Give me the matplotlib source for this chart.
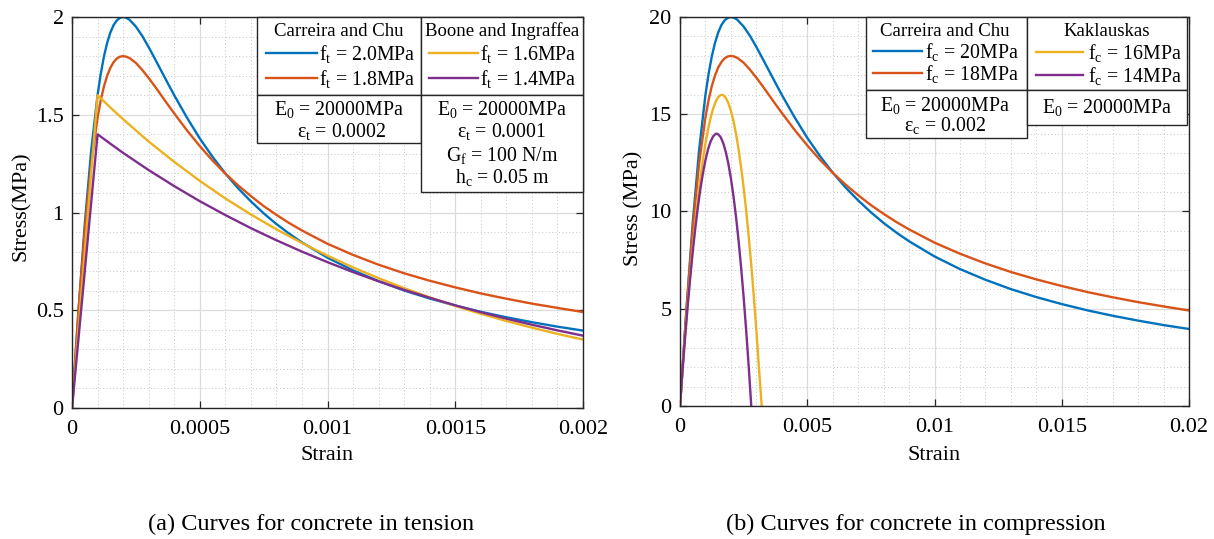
import matplotlib
matplotlib.use("Agg")
import matplotlib.pyplot as plt
from matplotlib.ticker import MultipleLocator, FuncFormatter
from matplotlib.patches import Rectangle
from matplotlib.lines import Line2D

plt.rcParams['font.family'] = ['Liberation Serif', 'DejaVu Serif']
plt.rcParams['mathtext.fontset'] = 'custom'
plt.rcParams['mathtext.rm'] = 'Liberation Serif'
plt.rcParams['mathtext.it'] = 'Liberation Serif:italic'

# ---------------- data: tension ----------------
t_strain_cc = [0, 0.000025, 0.00005, 0.000075, 0.0001, 0.0001125, 0.000125, 0.0001375,
               0.00015, 0.0001625, 0.000175, 0.0001875, 0.0002, 0.0002125, 0.000225,
               0.00025, 0.000275, 0.0003, 0.000325, 0.00035, 0.000375, 0.0004,
               0.00045, 0.0005, 0.00055, 0.0006, 0.00065, 0.0007, 0.00075, 0.0008,
               0.00085, 0.0009, 0.0010, 0.0011, 0.0012, 0.0013, 0.0014, 0.0015,
               0.0016, 0.0017, 0.0018, 0.0019, 0.0020]
t_cc_20 = [0, 0.492, 0.941, 1.315, 1.600, 1.709, 1.798, 1.867, 1.920, 1.958, 1.982,
           1.996, 2.000, 1.996, 1.986, 1.951, 1.903, 1.846, 1.785, 1.723, 1.661, 1.600,
           1.485, 1.379, 1.285, 1.200, 1.124, 1.057, 0.996, 0.941, 0.892, 0.847, 0.769,
           0.704, 0.649, 0.601, 0.560, 0.524, 0.492, 0.464, 0.439, 0.416, 0.396]
t_cc_18 = [0, 0.487, 0.911, 1.245, 1.485, 1.574, 1.645, 1.699, 1.740, 1.768, 1.787,
           1.797, 1.800, 1.797, 1.790, 1.765, 1.729, 1.688, 1.644, 1.598, 1.552, 1.507,
           1.420, 1.340, 1.266, 1.199, 1.139, 1.084, 1.033, 0.988, 0.946, 0.908, 0.840,
           0.783, 0.733, 0.689, 0.651, 0.617, 0.586, 0.559, 0.534, 0.512, 0.491]

t_strain_bi = [0, 0.0001, 0.00015, 0.0002, 0.0003, 0.0004, 0.0005, 0.0006, 0.0007,
               0.0008, 0.0009, 0.0010, 0.0011, 0.0012, 0.0013, 0.0014, 0.0015,
               0.0016, 0.0017, 0.0018, 0.0019, 0.0020]
t_bi_16 = [0, 1.600, 1.537, 1.477, 1.363, 1.259, 1.162, 1.072, 0.990, 0.914, 0.844,
           0.779, 0.719, 0.664, 0.613, 0.566, 0.522, 0.482, 0.445, 0.411, 0.379, 0.350]
t_bi_14 = [0, 1.400, 1.352, 1.305, 1.217, 1.135, 1.058, 0.987, 0.920, 0.858, 0.800,
           0.746, 0.695, 0.648, 0.604, 0.564, 0.525, 0.490, 0.457, 0.426, 0.397, 0.370]

# ---------------- data: compression ----------------
c_strain_cc = [0, 0.00025, 0.0005, 0.00075, 0.001, 0.001125, 0.00125, 0.001375,
               0.0015, 0.001625, 0.00175, 0.001875, 0.002, 0.002125, 0.00225,
               0.0025, 0.00275, 0.003, 0.00325, 0.0035, 0.00375, 0.004,
               0.0045, 0.005, 0.0055, 0.006, 0.0065, 0.007, 0.0075, 0.008,
               0.0085, 0.009, 0.010, 0.011, 0.012, 0.013, 0.014, 0.015,
               0.016, 0.017, 0.018, 0.019, 0.020]
c_cc_20 = [0, 4.92, 9.41, 13.15, 16.00, 17.09, 17.98, 18.67, 19.20, 19.58, 19.82,
           19.96, 20.00, 19.96, 19.86, 19.51, 19.03, 18.46, 17.85, 17.23, 16.61, 16.00,
           14.85, 13.79, 12.85, 12.00, 11.24, 10.57, 9.96, 9.41, 8.92, 8.47, 7.69,
           7.04, 6.49, 6.01, 5.60, 5.24, 4.92, 4.64, 4.39, 4.16, 3.96]
c_cc_18 = [0, 4.87, 9.11, 12.45, 14.85, 15.74, 16.45, 16.99, 17.40, 17.68, 17.87,
           17.97, 18.00, 17.97, 17.90, 17.65, 17.29, 16.88, 16.44, 15.98, 15.52, 15.07,
           14.20, 13.40, 12.66, 11.99, 11.39, 10.84, 10.33, 9.88, 9.46, 9.08, 8.40,
           7.83, 7.33, 6.89, 6.51, 6.17, 5.86, 5.59, 5.34, 5.12, 4.91]

c_strain_k16 = [0, 0.0001, 0.0002, 0.0003, 0.0004, 0.0005, 0.0006, 0.0007, 0.0008,
                0.0009, 0.0010, 0.0011, 0.0012, 0.0013, 0.0014, 0.0015, 0.0016,
                0.00164, 0.0017, 0.0018, 0.0019, 0.0020, 0.0021, 0.0022, 0.0023,
                0.0024, 0.0025, 0.0026, 0.0027, 0.0028, 0.0029, 0.0030, 0.0031,
                0.00321]
c_k16 = [0, 1.85, 3.59, 5.22, 6.74, 8.15, 9.45, 10.63, 11.70, 12.65, 13.49, 14.21,
         14.81, 15.28, 15.64, 15.88, 15.99, 16.00, 15.98, 15.84, 15.57, 15.18, 14.66,
         14.00, 13.21, 12.29, 11.24, 10.05, 8.72, 7.25, 5.64, 3.89, 2.00, 0.0]
c_strain_k14 = [0, 0.0001, 0.0002, 0.0003, 0.0004, 0.0005, 0.0006, 0.0007, 0.0008,
                0.0009, 0.0010, 0.0011, 0.0012, 0.0013, 0.0014, 0.00144, 0.0015,
                0.0016, 0.0017, 0.0018, 0.0019, 0.0020, 0.0021, 0.0022, 0.0023,
                0.0024, 0.0025, 0.0026, 0.0027, 0.0028]
c_k14 = [0, 1.83, 3.54, 5.12, 6.58, 7.92, 9.12, 10.20, 11.15, 11.96, 12.64, 13.19,
         13.59, 13.86, 13.99, 14.00, 13.97, 13.82, 13.51, 13.06, 12.46, 11.70, 10.80,
         9.74, 8.52, 7.14, 5.60, 3.89, 2.02, 0.0]

colors = ['#0072BD', '#D95319', '#EDB120', '#7E2F8E']
LW = 1.7

W, H = 1214, 539
fig = plt.figure(figsize=(W / 100, H / 100), dpi=100)
ax1 = fig.add_axes([72 / W, (H - 408) / H, 511 / W, 391 / H])
ax2 = fig.add_axes([680 / W, (H - 406) / H, 509 / W, 389 / H])


def P(px, py):
    return px / W, 1 - py / H


fmt = FuncFormatter(lambda v, p: '%g' % round(v, 10))
TICK = 16
LAB = 16


def style(ax, xmaj, xmin, ymaj, ymin, xlim, ylim):
    ax.set_xlim(*xlim)
    ax.set_ylim(*ylim)
    ax.xaxis.set_major_locator(MultipleLocator(xmaj))
    ax.xaxis.set_minor_locator(MultipleLocator(xmin))
    ax.yaxis.set_major_locator(MultipleLocator(ymaj))
    ax.yaxis.set_minor_locator(MultipleLocator(ymin))
    ax.xaxis.set_major_formatter(fmt)
    ax.yaxis.set_major_formatter(fmt)
    ax.grid(which='major', color='#dcdcdc', lw=0.9, ls='-')
    ax.grid(which='minor', color='#c4c4c4', lw=0.7, ls=(0, (1, 2.5)))
    ax.set_axisbelow(True)
    ax.tick_params(which='major', direction='in', length=5, width=0.9,
                   top=True, right=True, labelsize=TICK, color='#262626', pad=6)
    ax.tick_params(axis='x', which='major', pad=9)
    ax.tick_params(which='minor', length=0, top=True, right=True)
    for s in ax.spines.values():
        s.set_color('#262626')
        s.set_linewidth(1.0)


style(ax1, 0.0005, 0.0001, 0.5, 0.1, (0, 0.002), (0, 2))
style(ax2, 0.005, 0.001, 5, 1, (0, 0.02), (0, 20))

l1, = ax1.plot(t_strain_cc, t_cc_20, color=colors[0], lw=LW)
l2, = ax1.plot(t_strain_cc, t_cc_18, color=colors[1], lw=LW)
l3, = ax1.plot(t_strain_bi, t_bi_16, color=colors[2], lw=LW)
l4, = ax1.plot(t_strain_bi, t_bi_14, color=colors[3], lw=LW)

m1, = ax2.plot(c_strain_cc, c_cc_20, color=colors[0], lw=LW)
m2, = ax2.plot(c_strain_cc, c_cc_18, color=colors[1], lw=LW)
m3, = ax2.plot(c_strain_k16, c_k16, color=colors[2], lw=LW)
m4, = ax2.plot(c_strain_k14, c_k14, color=colors[3], lw=LW)

ax1.set_xlabel('Strain', fontsize=LAB)
ax1.set_ylabel('Stress(MPa)', fontsize=LAB)
ax2.set_xlabel('Strain', fontsize=LAB)
ax2.set_ylabel('Stress (MPa)', fontsize=LAB)
ax1.xaxis.set_label_coords(0.5, (408 - 456) / 391)
ax1.xaxis.label.set_va('center')
ax2.xaxis.set_label_coords(0.5, (406 - 456) / 389)
ax2.xaxis.label.set_va('center')
ax1.yaxis.set_label_coords((21 - 72) / 511, (408 - 206) / 391)
ax1.yaxis.label.set_va('center')
ax2.yaxis.set_label_coords((634 - 680) / 509, (406 - 208) / 389)
ax2.yaxis.label.set_va('center')

LT = 13.5
LS = 14.3
TF = fig.transFigure


def box(ax, x0, y0, x1, y1):
    (fx0, fy1), (fx1, fy0) = P(x0, y0), P(x1, y1)
    ax.add_patch(Rectangle((fx0, fy0), fx1 - fx0, fy1 - fy0, transform=TF,
                           facecolor='white', edgecolor='#262626', lw=1.0,
                           clip_on=False, zorder=5))


def txt(ax, px, py, s, ha='center', size=LS):
    x, y = P(px, py)
    ax.text(x, y, s, transform=TF, ha=ha, va='center', fontsize=size, zorder=6)


def sample(ax, line, x0, x1, py):
    a, y = P(x0, py)
    b, _ = P(x1, py)
    ax.add_line(Line2D([a, b], [y, y], transform=TF, color=line.get_color(),
                       lw=LW, clip_on=False, zorder=6))


# ---- left legends ----
box(ax1, 257, 17, 421, 95)
box(ax1, 257, 95, 421, 143)
box(ax1, 421, 17, 583, 94.5)
box(ax1, 421, 94.5, 583, 192)
txt(ax1, 339, 31, 'Carreira and Chu', size=LT)
sample(ax1, l1, 266, 317, 53)
txt(ax1, 319, 54, r'f$_{\rm t}$ = 2.0MPa', ha='left')
sample(ax1, l2, 266, 317, 78)
txt(ax1, 319, 79, r'f$_{\rm t}$ = 1.8MPa', ha='left')
txt(ax1, 502, 31, 'Boone and Ingraffea', size=LT)
sample(ax1, l3, 429, 478, 53)
txt(ax1, 480, 54, r'f$_{\rm t}$ = 1.6MPa', ha='left')
sample(ax1, l4, 429, 478, 78)
txt(ax1, 480, 79, r'f$_{\rm t}$ = 1.4MPa', ha='left')
txt(ax1, 339, 109, r'E$_0$ = 20000MPa')
txt(ax1, 342, 131, r'ε$_{\rm t}$ = 0.0002')
txt(ax1, 502, 109, r'E$_0$ = 20000MPa')
txt(ax1, 502, 132, r'ε$_{\rm t}$ = 0.0001')
txt(ax1, 502, 156, r'G$_{\rm f}$ = 100 N/m')
txt(ax1, 502, 178, r'h$_{\rm c}$ = 0.05 m')

# ---- right legends ----
box(ax2, 866, 17, 1027, 90)
box(ax2, 866, 90, 1027, 138)
box(ax2, 1027, 17, 1187, 90)
box(ax2, 1027, 90, 1187, 125)
txt(ax2, 945, 31, 'Carreira and Chu', size=LT)
sample(ax2, m1, 873, 922, 51)
txt(ax2, 925, 52, r'f$_{\rm c}$ = 20MPa', ha='left')
sample(ax2, m2, 873, 922, 73)
txt(ax2, 925, 74, r'f$_{\rm c}$ = 18MPa', ha='left')
txt(ax2, 1107, 31, 'Kaklauskas', size=LT)
sample(ax2, m3, 1036, 1083, 52)
txt(ax2, 1088, 53, r'f$_{\rm c}$ = 16MPa', ha='left')
sample(ax2, m4, 1036, 1083, 75)
txt(ax2, 1088, 76, r'f$_{\rm c}$ = 14MPa', ha='left')
txt(ax2, 945, 105, r'E$_0$ = 20000MPa')
txt(ax2, 945, 126, r'ε$_{\rm c}$ = 0.002')
txt(ax2, 1107, 107, r'E$_0$ = 20000MPa')

# ---- captions ----
fig.text(*P(311, 524), '(a) Curves for concrete in tension', ha='center',
         va='center', fontsize=17.5)
fig.text(*P(916, 524), '(b) Curves for concrete in compression', ha='center',
         va='center', fontsize=17.5)

fig.savefig('out.png', dpi=100, facecolor='white')
